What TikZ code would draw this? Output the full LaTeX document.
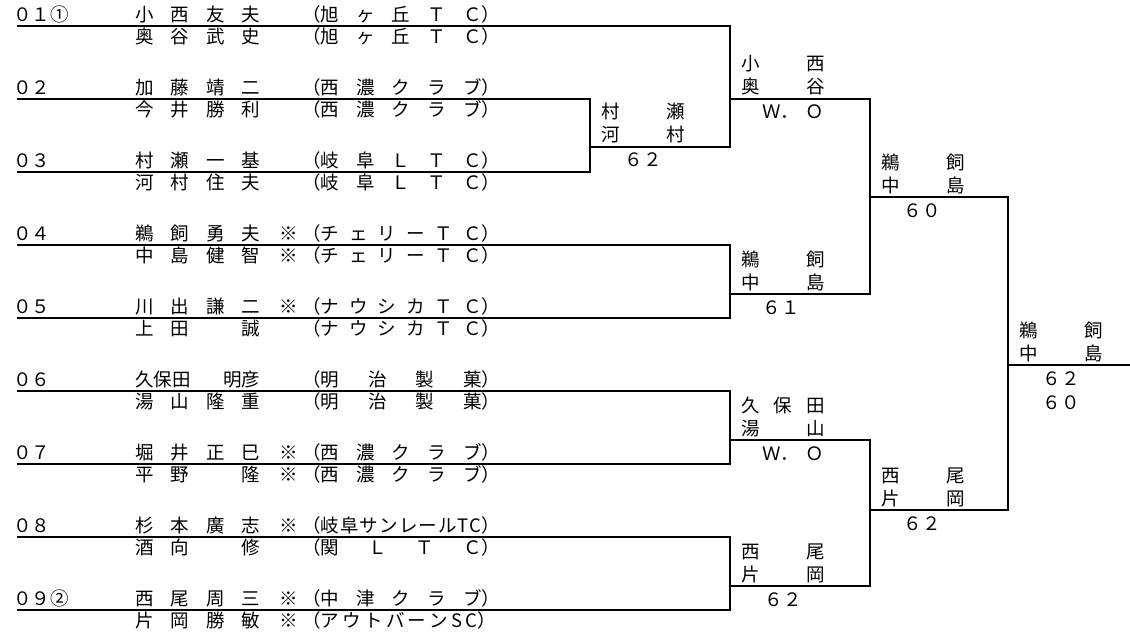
\documentclass[tikz,border=0pt]{standalone}
\usepackage{fontspec}
\setmainfont{Noto Sans CJK JP}
\usepackage{graphicx}
\usepackage{tikz}
\newcommand\kome{\llap{※\kern4pt}}

\begin{document}
\begin{tikzpicture}[x=1pt,y=-1pt,
    ln/.style={line width=2pt, line cap=rect},
    txt/.style={inner sep=0pt, anchor=base west, font=\fontsize{18.5}{22}\selectfont},
    sc/.style={inner sep=0pt, anchor=base, font=\fontsize{18.5}{22}\selectfont}]
  \useasboundingbox (0,0) rectangle (1130,635);

  % players
  \foreach \i/\y/\sd/\na/\ta/\nb/\tb in {
    1/25.7/０１①/{小\hfill 西\hfill 友\hfill 夫}/{（旭\hfill ヶ\hfill 丘\hfill Ｔ\hfill Ｃ）}/{奥\hfill 谷\hfill 武\hfill 史}/{（旭\hfill ヶ\hfill 丘\hfill Ｔ\hfill Ｃ）},
    2/98.7/０２/{加\hfill 藤\hfill 靖\hfill 二}/{（西\hfill 濃\hfill ク\hfill ラ\hfill ブ）}/{今\hfill 井\hfill 勝\hfill 利}/{（西\hfill 濃\hfill ク\hfill ラ\hfill ブ）},
    3/171.7/０３/{村\hfill 瀬\hfill 一\hfill 基}/{（岐\hfill 阜\hfill Ｌ\hfill Ｔ\hfill Ｃ）}/{河\hfill 村\hfill 住\hfill 夫}/{（岐\hfill 阜\hfill Ｌ\hfill Ｔ\hfill Ｃ）},
    4/244.7/０４/{鵜\hfill 飼\hfill 勇\hfill 夫}/{\kome（チ\hfill ェ\hfill リ\hfill ー\hfill Ｔ\hfill Ｃ）}/{中\hfill 島\hfill 健\hfill 智}/{\kome（チ\hfill ェ\hfill リ\hfill ー\hfill Ｔ\hfill Ｃ）},
    5/317.7/０５/{川\hfill 出\hfill 謙\hfill 二}/{\kome（ナ\hfill ウ\hfill シ\hfill カ\hfill Ｔ\hfill Ｃ）}/{上\hfill 田\hfill \hphantom{誠}\hfill 誠}/{（ナ\hfill ウ\hfill シ\hfill カ\hfill Ｔ\hfill Ｃ）},
    6/390.7/０６/{久保田\hfill 明彦}/{（明\hfill 治\hfill 製\hfill 菓）}/{湯\hfill 山\hfill 隆\hfill 重}/{（明\hfill 治\hfill 製\hfill 菓）},
    7/463.7/０７/{堀\hfill 井\hfill 正\hfill 巳}/{\kome（西\hfill 濃\hfill ク\hfill ラ\hfill ブ）}/{平\hfill 野\hfill \hphantom{隆}\hfill 隆}/{\kome（西\hfill 濃\hfill ク\hfill ラ\hfill ブ）},
    8/536.7/０８/{杉\hfill 本\hfill 廣\hfill 志}/{\kome（岐\hfill 阜\hfill サ\hfill ン\hfill レ\hfill ー\hfill ル\hfill T\hfill C）}/{酒\hfill 向\hfill \hphantom{修}\hfill 修}/{（関\hfill Ｌ\hfill Ｔ\hfill Ｃ）},
    9/609.7/０９②/{西\hfill 尾\hfill 周\hfill 三}/{\kome（中\hfill 津\hfill ク\hfill ラ\hfill ブ）}/{片\hfill 岡\hfill 勝\hfill 敏}/{\kome（ア\hfill ウ\hfill ト\hfill バ\hfill ー\hfill ン\hfill S\hfill C）}
  }{
    \coordinate (l\i) at (18,\y);
    \node[txt] (sd\i) at (13,\y-4) {\sd};
    \node[txt] (na\i) at (135,\y-4) {\makebox[125pt]{\na}};
    \node[txt] (ta\i) at (302,\y-4) {\makebox[198pt]{\ta}};
    \node[txt] (nb\i) at (135,\y+18) {\makebox[125pt]{\nb}};
    \node[txt] (tb\i) at (302,\y+18) {\makebox[198pt]{\tb}};
  }

  % match points
  \coordinate (m1) at (590,146.7);
  \coordinate (m2) at (730,98.7);
  \coordinate (m3) at (730,294);
  \coordinate (m4) at (730,440);
  \coordinate (m5) at (730,586);
  \coordinate (m6) at (870,197);
  \coordinate (m7) at (870,510);
  \coordinate (m8) at (1008,365);
  \coordinate (win) at (1130,365);

  % bracket
  \draw[ln] (l2) -| (m1) |- (l3);
  \draw[ln] (l1) -| (m2) |- (m1);
  \draw[ln] (l4) -| (m3) |- (l5);
  \draw[ln] (l6) -| (m4) |- (l7);
  \draw[ln] (l8) -| (m5) |- (l9);
  \draw[ln] (m2) -| (m6) |- (m3);
  \draw[ln] (m4) -| (m7) |- (m5);
  \draw[ln] (m6) -| (m8) |- (m7);
  \draw[ln] (m8) -- (win);

  % round 1
  \node[txt] (w1a) at (601,118.7) {\makebox[84pt]{村\hfill 瀬}};
  \node[txt] (w1b) at (601,141.7) {\makebox[84pt]{河\hfill 村}};
  \node[sc] (s1) at (643,166.7) {６２};

  % round 2
  \node[txt] (w2a) at (741,70.7) {\makebox[84pt]{小\hfill 西}};
  \node[txt] (w2b) at (741,93.7) {\makebox[84pt]{奥\hfill 谷}};
  \node[sc] (s2) at (793,118.7) {\makebox[62pt]{Ｗ．\hfill Ｏ}};

  \node[txt] (w3a) at (741,266) {\makebox[84pt]{鵜\hfill 飼}};
  \node[txt] (w3b) at (741,289) {\makebox[84pt]{中\hfill 島}};
  \node[sc] (s3) at (781,314) {６１};

  \node[txt] (w4a) at (741,412) {\makebox[84pt]{久\hfill 保\hfill 田}};
  \node[txt] (w4b) at (741,435) {\makebox[84pt]{湯\hfill 山}};
  \node[sc] (s4) at (793,460) {\makebox[62pt]{Ｗ．\hfill Ｏ}};

  \node[txt] (w5a) at (741,558) {\makebox[84pt]{西\hfill 尾}};
  \node[txt] (w5b) at (741,581) {\makebox[84pt]{片\hfill 岡}};
  \node[sc] (s5) at (783,606) {６２};

  % semi finals
  \node[txt] (w6a) at (881,169) {\makebox[84pt]{鵜\hfill 飼}};
  \node[txt] (w6b) at (881,192) {\makebox[84pt]{中\hfill 島}};
  \node[sc] (s6) at (922,217) {６０};

  \node[txt] (w7a) at (881,482) {\makebox[84pt]{西\hfill 尾}};
  \node[txt] (w7b) at (881,505) {\makebox[84pt]{片\hfill 岡}};
  \node[sc] (s7) at (922,530) {６２};

  % final
  \node[txt] (w8a) at (1019,337) {\makebox[84pt]{鵜\hfill 飼}};
  \node[txt] (w8b) at (1019,360) {\makebox[84pt]{中\hfill 島}};
  \node[sc] (s8a) at (1061,385) {６２};
  \node[sc] (s8b) at (1061,409) {６０};
\end{tikzpicture}
\end{document}
